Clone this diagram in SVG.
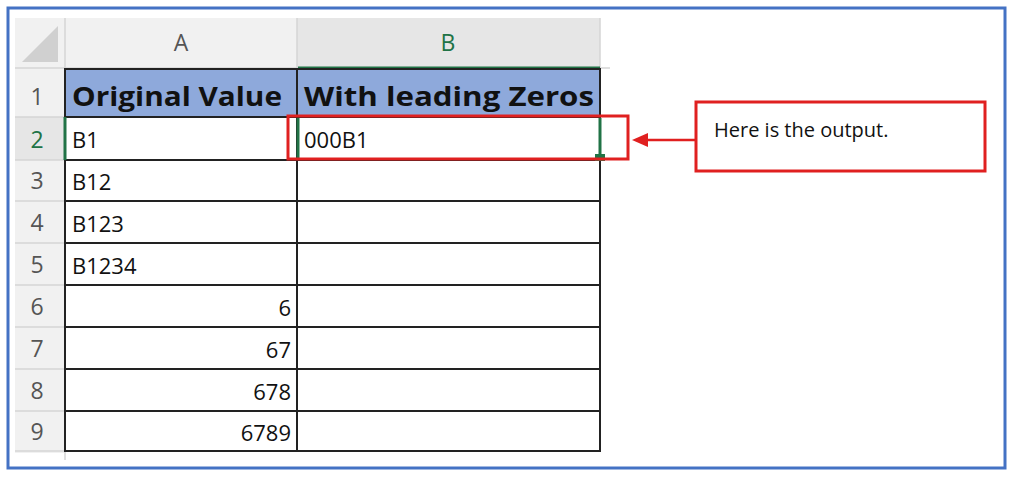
<svg xmlns="http://www.w3.org/2000/svg" width="1013" height="477" viewBox="0 0 1013 477">
<style>
text{font-family:"Open Sans","Liberation Sans",sans-serif}
.rn{font-size:23px;fill:#555;text-anchor:middle}
.c{font-size:22px;fill:#111;font-weight:500}
.h{font-size:27px;font-weight:bold;fill:#111}
.g{stroke:#d4d4d4;stroke-width:1.5}
.k{stroke:#222;stroke-width:2;fill:none}
</style>
<rect x="0" y="0" width="1013" height="477" fill="#fff"/>
<g id="sheet">
<rect x="15" y="18" width="585" height="50" fill="#f1f1f1"/>
<rect x="297" y="18" width="303" height="50" fill="#e6e6e6"/>
<rect x="15" y="68" width="50" height="385" fill="#f1f1f1"/>
<rect x="15" y="117" width="50" height="43" fill="#e6e6e6"/>
<polygon points="22,62 58,62 58,26" fill="#d0d0d0"/>
<line class="g" x1="65" y1="18" x2="65" y2="460"/>
<line class="g" x1="297" y1="18" x2="297" y2="68"/>
<line class="g" x1="600" y1="18" x2="600" y2="68"/>
<line class="g" x1="15" y1="68" x2="610" y2="68"/>
<g class="g"><line x1="15" y1="117" x2="65" y2="117"/><line x1="15" y1="160" x2="65" y2="160"/><line x1="15" y1="201" x2="65" y2="201"/><line x1="15" y1="243" x2="65" y2="243"/><line x1="15" y1="285" x2="65" y2="285"/><line x1="15" y1="327" x2="65" y2="327"/><line x1="15" y1="369" x2="65" y2="369"/><line x1="15" y1="411" x2="65" y2="411"/><line x1="15" y1="451" x2="65" y2="451"/></g>
<line x1="298" y1="68" x2="600" y2="68" stroke="#217346" stroke-width="3"/>
<text x="181" y="51" class="rn">A</text>
<text x="448" y="51" class="rn" style="fill:#217346">B</text>
<text x="37" y="105" class="rn">1</text>
<text x="37" y="148" class="rn" style="fill:#217346">2</text>
<text x="37" y="189" class="rn">3</text>
<text x="37" y="231" class="rn">4</text>
<text x="37" y="273" class="rn">5</text>
<text x="37" y="315" class="rn">6</text>
<text x="37" y="357" class="rn">7</text>
<text x="37" y="399" class="rn">8</text>
<text x="37" y="440" class="rn">9</text>
<rect x="65" y="69" width="535" height="48" fill="#8ea9db"/>
<g class="k">
<rect x="65" y="69" width="535" height="382"/>
<line x1="297" y1="69" x2="297" y2="451"/>
<line x1="65" y1="117" x2="600" y2="117"/>
<line x1="65" y1="160" x2="600" y2="160"/>
<line x1="65" y1="201" x2="600" y2="201"/>
<line x1="65" y1="243" x2="600" y2="243"/>
<line x1="65" y1="285" x2="600" y2="285"/>
<line x1="65" y1="327" x2="600" y2="327"/>
<line x1="65" y1="369" x2="600" y2="369"/>
<line x1="65" y1="411" x2="600" y2="411"/>
</g>
<line x1="65" y1="117" x2="65" y2="160" stroke="#217346" stroke-width="3"/>
<line x1="298" y1="118" x2="298" y2="158" stroke="#217346" stroke-width="3"/>
<line x1="600" y1="118" x2="600" y2="155" stroke="#217346" stroke-width="3"/>
<rect x="595" y="154" width="10" height="7" fill="#217346"/>
<text x="72" y="106" class="h" textLength="210" lengthAdjust="spacingAndGlyphs">Original Value</text>
<text x="304" y="106" class="h" textLength="290" lengthAdjust="spacingAndGlyphs">With leading Zeros</text>
<text x="72" y="148" class="c">B1</text>
<text x="304" y="148" class="c">000B1</text>
<text x="72" y="190" class="c">B12</text>
<text x="72" y="232" class="c">B123</text>
<text x="72" y="274" class="c">B1234</text>
<text x="291" y="316" class="c" text-anchor="end">6</text>
<text x="291" y="358" class="c" text-anchor="end">67</text>
<text x="291" y="400" class="c" text-anchor="end">678</text>
<text x="291" y="441" class="c" text-anchor="end">6789</text>
</g>
<g id="highlight"><rect x="288" y="116" width="340" height="43" fill="none" stroke="#e02020" stroke-width="3"/></g>
<g id="callout">
<rect x="696" y="102" width="289" height="69" fill="#fff" stroke="#e02020" stroke-width="3"/>
<text x="714" y="137" style="font-size:20px;fill:#111">Here is the output.</text>
</g>
<g id="connectors">
<line x1="695" y1="140" x2="645" y2="140" stroke="#e02020" stroke-width="2.5"/>
<polygon points="632,140 648,133 648,147" fill="#e02020"/>
</g>
<rect x="8" y="8" width="997" height="460" fill="none" stroke="#4472c4" stroke-width="3"/>
</svg>
